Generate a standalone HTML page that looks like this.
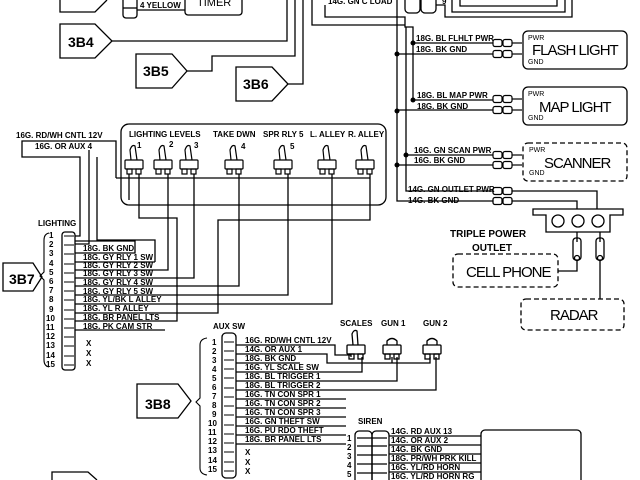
<!DOCTYPE html>
<html><head><meta charset="utf-8"><style>
html,body{margin:0;padding:0;background:#fff;}
svg{display:block;}
text{font-family:"Liberation Sans",sans-serif;fill:#000;}
.w{font-size:8px;font-weight:bold;}
.n{font-size:8px;font-weight:bold;}
.big{font-size:15px;letter-spacing:-1px;}
.lb{font-size:14px;font-weight:bold;}
</style></head><body>
<svg width="640" height="480" viewBox="0 0 640 480" xmlns="http://www.w3.org/2000/svg">
<defs>
<g id="c" fill="none" stroke="#000" stroke-width="1.2">
<rect x="493" y="-3.5" width="9" height="7" rx="2"/>
<rect x="503" y="-3.5" width="9" height="7" rx="2"/>
<line x1="512" y1="0" x2="522" y2="0"/>
</g>
<g id="t" fill="none" stroke="#000" stroke-width="1.2">
<path d="M-3 160 L-4 150 Q-2 144 1 146 L3 160"/>
<rect x="-9" y="160" width="18" height="9" rx="1"/>
<rect x="-7" y="169" width="5" height="5"/><rect x="2" y="169" width="5" height="5"/>
</g>
</defs>
<g fill="none" stroke="#000" stroke-width="1.3">
<path d="M60 0 V12 H95 L107 0"/>
<rect x="123" y="-4" width="14" height="22" rx="3"/>
<line x1="123" y1="8" x2="137" y2="8"/>
<path d="M137 10 H185"/>
<rect x="185" y="-6" width="57" height="21" rx="3"/>
<path d="M60 24 H95 L112 41 L95 58 H60 Z"/>
<path d="M112 41 H287 V0"/>
<path d="M136 54 H172 L187 71 L172 88 H136 Z"/>
<path d="M187 71 H212 V56 H295 V0"/>
<path d="M236 67 H272 L288 84 L272 101 H236 Z"/>
<path d="M288 84 H303 V0"/>
<path d="M312 0 V25 H405"/>
<path d="M325 5 V17 H405 V27 H413 V100 H493"/>
<path d="M397 0 V201 H493"/>
<path d="M413 43 H493"/>
<path d="M397 54 H493"/>
<path d="M397 110 H493"/>
<path d="M406 27 V191 H493"/>
<path d="M406 155 H493"/>
<path d="M397 165 H493"/>
<rect x="405" y="-6" width="15" height="19" rx="4"/>
<rect x="421" y="-6" width="15" height="19" rx="4"/>
<path d="M436 5 H445 V17 H572 V0"/>
<path d="M452 0 V12 H565 V0"/>
<path d="M460 0 V6 H557 V0"/>
<use href="#c" y="43"/><use href="#c" y="54"/>
<use href="#c" y="99"/><use href="#c" y="110"/>
<use href="#c" y="155"/><use href="#c" y="165"/>
<rect x="493" y="187.5" width="9" height="7" rx="2"/><rect x="503" y="187.5" width="9" height="7" rx="2"/>
<rect x="493" y="197.5" width="9" height="7" rx="2"/><rect x="503" y="197.5" width="9" height="7" rx="2"/>
<path d="M512 191 H597 V209"/>
<path d="M512 201 H577 V209"/>
<rect x="523" y="31" width="104" height="38" rx="5"/>
<rect x="523" y="87" width="104" height="38" rx="5"/>
<rect x="523" y="143" width="104" height="38" rx="5" stroke-dasharray="5,3"/>
<path d="M533 209 H623 V215 H610 V232 H546 V215 H533 Z"/>
<circle cx="558" cy="221" r="6"/><circle cx="578" cy="221" r="6"/><circle cx="598" cy="221" r="6"/>
<path d="M577 232 V242 M600 232 V242"/>
<rect x="573" y="238" width="8" height="22" rx="3"/>
<rect x="596" y="238" width="8" height="22" rx="3"/>
<circle cx="577" cy="258" r="2.5"/><circle cx="600" cy="258" r="2.5"/>
<path d="M577 261 V271 H558"/>
<path d="M600 261 V299"/>
<rect x="453" y="254" width="105" height="33" rx="5" stroke-dasharray="5,3"/>
<rect x="521" y="299" width="103" height="31" rx="5" stroke-dasharray="5,3"/>
<rect x="121" y="124" width="265" height="81" rx="8"/>
<path d="M116 178 V141 H22 V157 H80 V236 H75"/>
<path d="M116 178 H370"/>
<path d="M89 150 V244 H75"/>
<path d="M97 157 V240 H155 V262"/>
<use href="#t" x="134"/><use href="#t" x="163"/><use href="#t" x="189"/>
<use href="#t" x="234"/><use href="#t" x="283"/><use href="#t" x="327"/><use href="#t" x="365"/>
<path d="M139 174 V218 H177 V321 H75"/>
<path d="M129 174 V200"/>
<path d="M168 174 V270 H75"/>
<path d="M194 174 V278 H75"/>
<path d="M239 174 V286 H75"/>
<path d="M288 174 V295 H75"/>
<path d="M332 174 V304 H75"/>
<path d="M370 174 V220 H218 V313 H75"/>
<path d="M75 253 H135 V241 H75"/>
<path d="M75 262 H155"/>
<path d="M75 330 H165"/>
<rect x="62" y="232" width="13" height="138" rx="3"/>
</g>
<g stroke="#000" stroke-width="1.1" fill="none">
<path d="M64 236 H74 M64 245 H74 M64 254 H74 M64 264 H74 M64 273 H74 M64 282 H74 M64 291 H74 M64 300 H74 M64 310 H74 M64 319 H74 M64 328 H74 M64 337 H74 M64 346 H74 M64 356 H74 M64 365 H74"/>
<path d="M49 233 Q44 234 44 240 V272 L40 276 L44 280 V360 Q44 366 49 367"/>
<path d="M3 263 H33 L42 277 L33 291 H3 Z" stroke-width="1.3"/>
<rect x="222" y="333" width="14" height="145" rx="4" stroke-width="1.3"/>
<path d="M224 342 H234 M224 351 H234 M224 360 H234 M224 369 H234 M224 378 H234 M224 388 H234 M224 397 H234 M224 406 H234 M224 415 H234 M224 425 H234 M224 434 H234 M224 443 H234 M224 452 H234 M224 462 H234 M224 471 H234"/>
<path d="M207 338 Q200 339 200 345 V398 L196 402 L200 406 V468 Q200 474 207 475"/>
<path d="M137 384 H178 L191 401 L178 418 H137 Z" stroke-width="1.3"/>
<path d="M52 480 V472 H88 L97 480" stroke-width="1.3"/>
<g stroke-width="1.3">
<path d="M236 345 H335 V355 H351 V357"/>
<path d="M236 354 H327 V363 H430 V357 M392 357 V363"/>
<path d="M236 363 H300"/>
<path d="M236 372 H362 V357"/>
<path d="M236 381 H397 V357"/>
<path d="M236 390 H436 V357"/>
<path d="M236 399 H346 M236 408 H346 M236 417 H346 M236 426 H346 M236 435 H346 M236 444 H346"/>
<path d="M353 345 L352 334 Q354 329 357 331 L358 345"/>
<rect x="347" y="345" width="18" height="9" rx="1"/>
<rect x="349" y="354" width="5" height="5"/><rect x="358" y="354" width="5" height="5"/>
<path d="M387 345 V341 Q392 336 397 341 V345"/>
<rect x="383" y="345" width="18" height="9" rx="1"/>
<rect x="385" y="354" width="5" height="5"/><rect x="394" y="354" width="5" height="5"/>
<path d="M427 345 V341 Q432 336 437 341 V345"/>
<rect x="423" y="345" width="18" height="9" rx="1"/>
<rect x="425" y="354" width="5" height="5"/><rect x="434" y="354" width="5" height="5"/>
<rect x="355" y="431" width="17" height="55" rx="4"/>
<rect x="372" y="431" width="17" height="55" rx="4"/>
<path d="M357 438 H387 M357 446 H387 M357 455 H387 M357 464 H387 M357 473 H387"/>
<path d="M389 436 H481 M389 445 H481 M389 454 H481 M389 463 H481 M389 472 H481"/>
<rect x="481" y="430" width="100" height="60" rx="4"/>
</g>
</g>
<g fill="#000">
<circle cx="413" cy="43" r="2.5"/><circle cx="397" cy="54" r="2.5"/>
<circle cx="413" cy="100" r="2.5"/><circle cx="397" cy="111" r="2.5"/>
<circle cx="406" cy="155" r="2.5"/><circle cx="397" cy="165" r="2.5"/>
</g>
<text class="w" x="140" y="8">4 YELLOW</text>
<text x="197" y="6" style="font-size:11px">TIMER</text>
<text class="lb" x="68" y="47">3B4</text>
<text class="lb" x="143" y="76">3B5</text>
<text class="lb" x="243" y="89">3B6</text>
<text class="w" x="328" y="4">14G. GN C LOAD</text>
<text class="w" x="442" y="4">9</text>
<text class="w" x="416" y="41">18G. BL FLHLT PWR</text>
<text class="w" x="416" y="52">18G. BK GND</text>
<text class="w" x="417" y="98">18G. BL MAP PWR</text>
<text class="w" x="417" y="109">18G. BK GND</text>
<text class="w" x="414" y="153">16G. GN SCAN PWR</text>
<text class="w" x="414" y="163">16G. BK GND</text>
<text class="w" x="408" y="192">14G. GN OUTLET PWR</text>
<text class="w" x="408" y="203">14G. BK GND</text>
<text x="528" y="40" style="font-size:7px">PWR</text>
<text class="big" x="532" y="55">FLASH LIGHT</text>
<text x="528" y="64" style="font-size:7px">GND</text>
<text x="528" y="96" style="font-size:7px">PWR</text>
<text class="big" x="539" y="112">MAP LIGHT</text>
<text x="528" y="120" style="font-size:7px">GND</text>
<text x="529" y="152" style="font-size:7px">PWR</text>
<text class="big" x="544" y="168">SCANNER</text>
<text x="529" y="175" style="font-size:7px">GND</text>
<text x="450" y="237" style="font-size:10px;font-weight:bold">TRIPLE POWER</text>
<text x="472" y="251" style="font-size:10px;font-weight:bold">OUTLET</text>
<text class="big" x="466" y="277">CELL PHONE</text>
<text class="big" x="550" y="320">RADAR</text>
<text class="w" x="16" y="138">16G. RD/WH CNTL 12V</text>
<text class="w" x="35" y="149">16G. OR AUX 4</text>
<text class="w" x="129" y="137">LIGHTING LEVELS</text>
<text class="w" x="213" y="137">TAKE DWN</text>
<text class="w" x="263" y="137">SPR RLY 5</text>
<text class="w" x="310" y="137">L. ALLEY</text>
<text class="w" x="348" y="137">R. ALLEY</text>
<text class="w" x="137" y="148">1</text><text class="w" x="169" y="147">2</text><text class="w" x="194" y="148">3</text>
<text class="w" x="241" y="149">4</text><text class="w" x="290" y="149">5</text>
<text class="w" x="38" y="226">LIGHTING</text>
<text class="lb" x="9" y="284">3B7</text>
<g class="n">
<text x="49" y="238">1</text><text x="49" y="247">2</text><text x="49" y="256">3</text><text x="49" y="266">4</text><text x="49" y="275">5</text><text x="49" y="284">6</text><text x="49" y="293">7</text><text x="49" y="302">8</text><text x="49" y="312">9</text><text x="46" y="321">10</text><text x="46" y="330">11</text><text x="46" y="339">12</text><text x="46" y="348">13</text><text x="46" y="358">14</text><text x="46" y="367">15</text>
</g>
<g class="w">
<text x="83" y="251">18G. BK GND</text>
<text x="83" y="260">18G. GY RLY 1 SW</text>
<text x="83" y="268">18G. GY RLY 2 SW</text>
<text x="83" y="276">18G. GY RLY 3 SW</text>
<text x="83" y="285">18G. GY RLY 4 SW</text>
<text x="83" y="294">18G. GY RLY 5 SW</text>
<text x="83" y="302">18G. YL/BK  L ALLEY</text>
<text x="83" y="311">18G. YL  R ALLEY</text>
<text x="83" y="320">18G. BR PANEL LTS</text>
<text x="83" y="329">18G. PK CAM STR</text>
<text x="86" y="346">X</text><text x="86" y="356">X</text><text x="86" y="366">X</text>
</g>
<text class="w" x="213" y="329">AUX SW</text>
<text class="lb" x="145" y="409">3B8</text>
<g class="n">
<text x="212" y="345">1</text><text x="212" y="354">2</text><text x="212" y="363">3</text><text x="212" y="372">4</text><text x="212" y="381">5</text><text x="212" y="390">6</text><text x="212" y="399">7</text><text x="212" y="408">8</text><text x="212" y="417">9</text><text x="208" y="426">10</text><text x="208" y="435">11</text><text x="208" y="444">12</text><text x="208" y="453">13</text><text x="208" y="463">14</text><text x="208" y="472">15</text>
</g>
<g class="w">
<text x="245" y="343">16G. RD/WH CNTL 12V</text>
<text x="245" y="352">14G. OR AUX 1</text>
<text x="245" y="361">18G. BK GND</text>
<text x="245" y="370">16G. YL SCALE SW</text>
<text x="245" y="379">18G. BL TRIGGER 1</text>
<text x="245" y="388">18G. BL TRIGGER 2</text>
<text x="245" y="397">16G. TN  CON SPR 1</text>
<text x="245" y="406">16G. TN  CON SPR 2</text>
<text x="245" y="415">16G. TN  CON SPR 3</text>
<text x="245" y="424">16G. GN THEFT SW</text>
<text x="245" y="433">16G. PU RDO THEFT</text>
<text x="245" y="442">18G. BR PANEL LTS</text>
<text x="245" y="455">X</text><text x="245" y="465">X</text><text x="245" y="474">X</text>
<text x="340" y="326">SCALES</text>
<text x="381" y="326">GUN 1</text>
<text x="423" y="326">GUN 2</text>
<text x="358" y="424">SIREN</text>
<text x="347" y="441">1</text><text x="347" y="450">2</text><text x="347" y="459">3</text><text x="347" y="468">4</text><text x="347" y="477">5</text>
<text x="391" y="434">14G. RD AUX 13</text>
<text x="391" y="443">14G. OR AUX 2</text>
<text x="391" y="452">14G. BK GND</text>
<text x="391" y="461">18G. PR/WH PRK KILL</text>
<text x="391" y="470">16G. YL/RD HORN</text>
<text x="391" y="479">16G. YL/RD HORN RG</text>
</g>
</svg>
</body></html>
